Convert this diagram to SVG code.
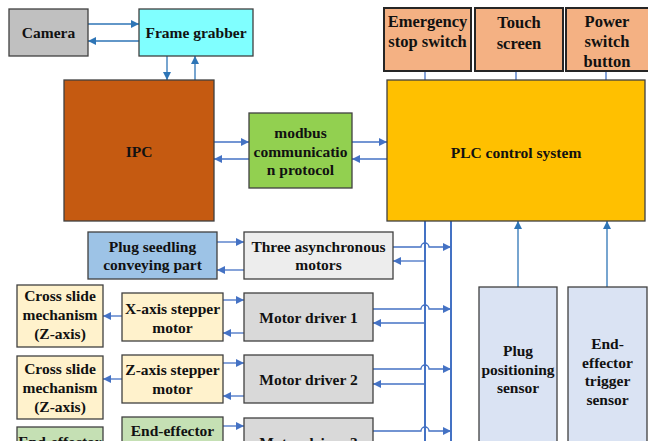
<svg xmlns="http://www.w3.org/2000/svg" width="648" height="441" viewBox="0 0 648 441">
  <defs>
    <marker id="ah" viewBox="0 0 10 10" refX="10" refY="5" markerWidth="8" markerHeight="8" markerUnits="userSpaceOnUse" orient="auto">
      <path d="M0,0 L10,5 L0,10 z" fill="#4472c4"/>
    </marker>
    <marker id="ah2" viewBox="0 0 10 10" refX="10" refY="5" markerWidth="8" markerHeight="8" markerUnits="userSpaceOnUse" orient="auto">
      <path d="M0,0 L10,5 L0,10 z" fill="#2e75b6"/>
    </marker>
    <style>
      .box { stroke: #404040; stroke-width: 1.3; }
      .top { fill: #f4b183; stroke: #262626; stroke-width: 2; }
      .t { font-family: "Liberation Serif", "Times New Roman", serif; font-weight: bold; font-size: 15.5px; fill: #111; text-anchor: middle; }
      .tl { font-size: 16.5px; }
      .c { fill: none; stroke: #4472c4; stroke-width: 1.3; }
      .ca { marker-end: url(#ah); }
      .c2 { fill: none; stroke: #2e75b6; stroke-width: 1.3; marker-end: url(#ah2); }
      .bus { fill: none; stroke: #4472c4; stroke-width: 2; }
    </style>
  </defs>
  <rect width="648" height="441" fill="#ffffff"/>

  <!-- connectors -->
  <g id="connectors">
    <!-- camera / frame grabber / IPC -->
    <path class="c2" d="M88 24 H139"/>
    <path class="c2" d="M139 41 H88"/>
    <path class="c2" d="M167 56 V80"/>
    <path class="c2" d="M195 80 V56"/>
    <!-- IPC / modbus / PLC -->
    <path class="c ca" d="M214 142 H249"/>
    <path class="c ca" d="M249 159 H214"/>
    <path class="c ca" d="M352 142 H387"/>
    <path class="c ca" d="M387 159 H352"/>
    <!-- top switches to PLC -->
    <path class="c" d="M425 71 V80 M516 71 V80 M606 71 V80"/>
    <!-- signal bus -->
    <path class="bus" d="M425 221 V441 M451 221 V441"/>
    <!-- asynchronous motors -->
    <path class="c ca" d="M217 242 H244"/>
    <path class="c ca" d="M244 270 H217"/>
    <path class="c ca" d="M393 247 H421 a4 4 0 0 1 8 0 H451"/>
    <path class="c ca" d="M425 261 H393"/>
    <!-- motor driver 1 -->
    <path class="c ca" d="M122 316 H103"/>
    <path class="c ca" d="M223 300 H244"/>
    <path class="c ca" d="M244 333 H223"/>
    <path class="c ca" d="M373 309 H421 a4 4 0 0 1 8 0 H451"/>
    <path class="c ca" d="M425 323 H373"/>
    <!-- motor driver 2 -->
    <path class="c ca" d="M122 379 H103"/>
    <path class="c ca" d="M223 363 H244"/>
    <path class="c ca" d="M244 396 H223"/>
    <path class="c ca" d="M373 369 H421 a4 4 0 0 1 8 0 H451"/>
    <path class="c ca" d="M425 384 H373"/>
    <!-- motor driver 3 -->
    <path class="c ca" d="M223 426 H244"/>
    <path class="c ca" d="M373 431 H421 a4 4 0 0 1 8 0 H451"/>
    <!-- sensors to PLC -->
    <path class="c2" d="M518 287 V221"/>
    <path class="c2" d="M607 287 V221"/>
  </g>

  <g id="camera">
    <rect class="box" x="9" y="9" width="79" height="47" fill="#c0c0c0"/>
    <text class="t" x="48.5" y="38">Camera</text>
  </g>
  <g id="frame-grabber">
    <rect class="box" x="139" y="9" width="114" height="47" fill="#80ffff"/>
    <text class="t" x="196" y="38">Frame grabber</text>
  </g>
  <g id="ipc">
    <rect class="box" x="64" y="80" width="150" height="141" fill="#c55a11"/>
    <text class="t" x="139" y="157">IPC</text>
  </g>
  <g id="modbus">
    <rect class="box" x="249" y="113" width="103" height="75" fill="#92d050"/>
    <text class="t" x="300.5" y="138">modbus</text>
    <text class="t" x="300.5" y="156.5">communicatio</text>
    <text class="t" x="300.5" y="175">n protocol</text>
  </g>
  <g id="plc">
    <rect class="box" x="387" y="80" width="258" height="141" fill="#ffc000"/>
    <text class="t" x="516" y="158">PLC control system</text>
  </g>
  <g id="emergency-stop">
    <rect class="top" x="384" y="8" width="87" height="63"/>
    <text class="t tl" x="427.5" y="27">Emergency</text>
    <text class="t tl" x="427.5" y="47">stop switch</text>
  </g>
  <g id="touch-screen">
    <rect class="top" x="475" y="8" width="88" height="63"/>
    <text class="t tl" x="519" y="28">Touch</text>
    <text class="t tl" x="519" y="49">screen</text>
  </g>
  <g id="power-switch">
    <rect class="top" x="566" y="8" width="84" height="63"/>
    <text class="t tl" x="607" y="27">Power</text>
    <text class="t tl" x="607" y="47">switch</text>
    <text class="t tl" x="607" y="67">button</text>
  </g>
  <g id="plug-seedling">
    <rect class="box" x="88" y="232" width="129" height="47" fill="#9dc3e6"/>
    <text class="t" x="152.5" y="252">Plug seedling</text>
    <text class="t" x="152.5" y="270">conveying part</text>
  </g>
  <g id="async-motors">
    <rect class="box" x="244" y="232" width="149" height="47" fill="#ededed"/>
    <text class="t" x="318.5" y="252">Three asynchronous</text>
    <text class="t" x="318.5" y="270">motors</text>
  </g>
  <g id="cross-slide-1">
    <rect class="box" x="17" y="285" width="86" height="62" fill="#fff2cc"/>
    <text class="t" x="60" y="301">Cross slide</text>
    <text class="t" x="60" y="320">mechanism</text>
    <text class="t" x="60" y="339">(Z-axis)</text>
  </g>
  <g id="x-stepper">
    <rect class="box" x="122" y="293" width="101" height="48" fill="#fff2cc"/>
    <text class="t" x="172.5" y="314">X-axis stepper</text>
    <text class="t" x="172.5" y="333">motor</text>
  </g>
  <g id="motor-driver-1">
    <rect class="box" x="244" y="293" width="129" height="48" fill="#d9d9d9"/>
    <text class="t" x="308.5" y="323">Motor driver 1</text>
  </g>
  <g id="cross-slide-2">
    <rect class="box" x="17" y="356" width="86" height="63" fill="#fff2cc"/>
    <text class="t" x="60" y="374">Cross slide</text>
    <text class="t" x="60" y="393">mechanism</text>
    <text class="t" x="60" y="412">(Z-axis)</text>
  </g>
  <g id="z-stepper">
    <rect class="box" x="122" y="355" width="101" height="48" fill="#fff2cc"/>
    <text class="t" x="172.5" y="375">Z-axis stepper</text>
    <text class="t" x="172.5" y="394">motor</text>
  </g>
  <g id="motor-driver-2">
    <rect class="box" x="244" y="355" width="129" height="48" fill="#d9d9d9"/>
    <text class="t" x="308.5" y="385">Motor driver 2</text>
  </g>
  <g id="end-effector-left">
    <rect class="box" x="17" y="427" width="86" height="30" fill="#c5e0b4"/>
    <text class="t" x="60" y="447">End-effector</text>
  </g>
  <g id="end-effector">
    <rect class="box" x="122" y="417" width="101" height="40" fill="#c5e0b4"/>
    <text class="t" x="172.5" y="436">End-effector</text>
  </g>
  <g id="motor-driver-3">
    <rect class="box" x="244" y="418" width="129" height="40" fill="#d9d9d9"/>
    <text class="t" x="308.5" y="448">Motor driver 3</text>
  </g>
  <g id="plug-positioning-sensor">
    <rect class="box" x="479" y="287" width="78" height="160" fill="#dae3f3"/>
    <text class="t" x="518" y="356">Plug</text>
    <text class="t" x="518" y="374.5">positioning</text>
    <text class="t" x="518" y="393">sensor</text>
  </g>
  <g id="trigger-sensor">
    <rect class="box" x="568" y="287" width="79" height="160" fill="#dae3f3"/>
    <text class="t" x="607.5" y="349">End-</text>
    <text class="t" x="607.5" y="368">effector</text>
    <text class="t" x="607.5" y="386">trigger</text>
    <text class="t" x="607.5" y="405">sensor</text>
  </g>
</svg>
